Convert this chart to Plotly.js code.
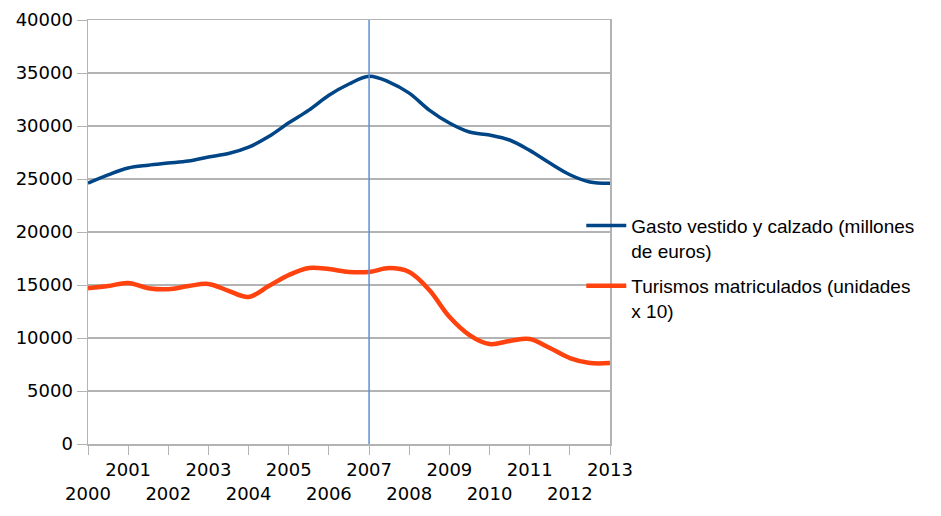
<!DOCTYPE html>
<html><head><meta charset="utf-8">
<script src="https://cdn.plot.ly/plotly-3.0.1.min.js"></script>
<style>html,body{margin:0;padding:0;background:#fff;}#chart{width:941px;height:516px;}</style>
</head><body><div id="chart"></div>
<script>
var years = [2000,2000.5,2001,2001.5,2002,2002.5,2003,2003.5,2004,2004.5,2005,2005.5,2006,2006.5,2007,2007.5,2008,2008.5,2009,2009.5,2010,2010.5,2011,2011.5,2012,2012.5,2013];
var gasto = [24600,25380,26040,26300,26500,26700,27080,27400,28000,29000,30300,31500,32900,33960,34700,34150,33100,31500,30280,29430,29150,28680,27700,26500,25400,24720,24600];
var turismos = [14700,14900,15190,14700,14600,14900,15100,14450,13870,14900,15940,16600,16500,16230,16230,16600,16230,14530,12000,10280,9430,9720,9900,9060,8110,7640,7640];
var tickYears = [2000,2001,2002,2003,2004,2005,2006,2007,2008,2009,2010,2011,2012,2013];
var tickLabels = tickYears.map(function(y){ return (y % 2 === 0) ? '<br>' + y : String(y); });
var markerYear = 2007;

var traces = [
  {x: years, y: gasto, type: 'scatter', mode: 'lines', name: 'Gasto vestido y calzado (millones<br>de euros)',
   line: {color: '#004586', width: 3.5, shape: 'spline', smoothing: 1}, legendgroup: 'a'},
  {x: years, y: turismos, type: 'scatter', mode: 'lines', name: 'Turismos matriculados (unidades<br>x 10)',
   line: {color: '#ff420e', width: 4.5, shape: 'spline', smoothing: 1}, legendgroup: 'b'}
];
var layout = {
  width: 941, height: 516,
  margin: {l: 88, r: 331, t: 20, b: 72},
  paper_bgcolor: '#fff', plot_bgcolor: '#fff',
  font: {family: 'DejaVu Sans, sans-serif', size: 18, color: '#000'},
  showlegend: true,
  legend: {x: 0.945, y: 0.56, xanchor: 'left', yanchor: 'top', valign: 'top',
    font: {family: 'Liberation Sans, Arial, sans-serif', size: 19, color: '#000'},
    tracegroupgap: 8, traceorder: 'grouped', bgcolor: 'rgba(0,0,0,0)', itemwidth: 40},
  xaxis: {range: [2000, 2013], tickmode: 'array', tickvals: tickYears, ticktext: tickLabels,
    showgrid: false, zeroline: false, showline: true, mirror: true, linecolor: '#b3b3b3', linewidth: 1.5,
    ticks: 'outside', ticklen: 9, tickcolor: '#b3b3b3', tickangle: 0, fixedrange: true},
  yaxis: {range: [0, 40000], tickmode: 'linear', tick0: 0, dtick: 5000, tickformat: 'd',
    showgrid: true, gridcolor: '#b3b3b3', gridwidth: 1.2, zeroline: false,
    showline: true, mirror: true, linecolor: '#b3b3b3', linewidth: 1.5,
    ticks: 'outside', ticklen: 10, tickcolor: '#b3b3b3', fixedrange: true},
  shapes: [{type: 'line', xref: 'x', yref: 'y', x0: markerYear, x1: markerYear, y0: 0, y1: 40000,
    line: {color: '#5b8fd6', width: 1.5}}]
};
Plotly.newPlot('chart', traces, layout, {displayModeBar: false, staticPlot: true});
</script></body></html>
